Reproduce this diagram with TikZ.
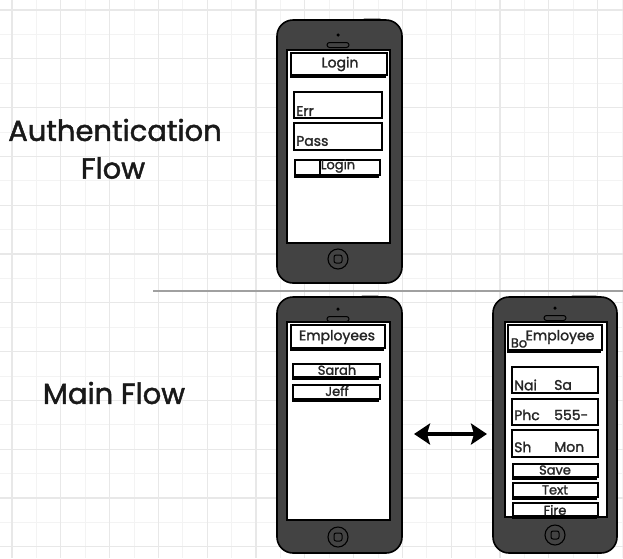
\documentclass[tikz,border=0pt]{standalone}
\usepackage{fontspec}
\setmainfont{Poppins}[FakeBold=1.6]
\usetikzlibrary{arrows.meta,shadows}
\definecolor{phonegray}{HTML}{434343}
\definecolor{majorgrid}{HTML}{E8E8E8}
\definecolor{minorgrid}{HTML}{F3F3F3}
\definecolor{sepgray}{HTML}{A0A0A0}
\tikzset{
  gridmajor/.style={draw=majorgrid, line width=1.2pt},
  gridminor/.style={draw=minorgrid, line width=0.8pt},
  phonebody/.style={draw=black, line width=1.6pt, fill=phonegray, rounded corners=16pt, inner sep=0pt},
  phonescreen/.style={draw=black, line width=1.2pt, fill=white, inner sep=0pt},
  uibox/.style={draw=black, line width=1.4pt, fill=white, inner sep=0pt,
    drop shadow={shadow xshift=-1.5pt, shadow yshift=-3pt, fill=black, opacity=1}},
  uifield/.style={draw=black, line width=1.8pt, fill=white, inner sep=0pt},
  uitext/.style={font=\fontsize{13}{13}\selectfont, inner sep=0pt, text=black!85},
  fieldtext/.style={font=\fontsize{14}{14}\selectfont, inner sep=0pt, text=black!85},
  headtext/.style={font=\fontsize{14}{14}\selectfont, inner sep=0pt, text=black!85},
  flowlabel/.style={font=\fontsize{29}{29}\selectfont, inner sep=0pt, text=black!90},
  homebtn/.style={draw=black, line width=1.1pt, circle, minimum size=20pt, inner sep=0pt, fill=phonegray},
  homeinner/.style={draw=black, line width=1pt, rounded corners=2pt, minimum size=8pt, inner sep=0pt},
  speakerslot/.style={draw=black, line width=1pt, fill=phonegray, rounded corners=2.5pt, minimum width=22pt, minimum height=5pt, inner sep=0pt},
  speakerdot/.style={fill=black, circle, minimum size=3.5pt, inner sep=0pt},
  sidebtn/.style={fill=black, rounded corners=1pt, inner sep=0pt},
  bigarrow/.style={{Stealth[length=16pt,width=21pt,inset=3pt]}-{Stealth[length=16pt,width=21pt,inset=3pt]}, line width=3.4pt, black}
}
\newcommand\uiframe[6]{%
  \node[#1, minimum width={#5-#3}, minimum height={#6-#4}] (#2) at ({(#3+#5)/2},{(#4+#6)/2}) {};}
\begin{document}
\begin{tikzpicture}[x=1pt,y=-1pt]
\useasboundingbox (0,0) rectangle (623,558);
\fill[white] (0,0) rectangle (623,558);
% grid
\foreach \k in {-1,...,12} {
  \draw[gridminor] ({36.4+\k*48.8},0) -- ({36.4+\k*48.8},558);
}
\foreach \k in {-1,...,11} {
  \draw[gridminor] (0,{34.4+\k*48.8}) -- (623,{34.4+\k*48.8});
}
\foreach \k in {0,...,12} {
  \draw[gridmajor] ({12+\k*48.8},0) -- ({12+\k*48.8},558);
}
\foreach \k in {0,...,11} {
  \draw[gridmajor] (0,{10+\k*48.8}) -- (623,{10+\k*48.8});
}

% labels
\node[flowlabel] (lauth) at (115,130) {Authentication};
\node[flowlabel] (lflow) at (113,168) {Flow};
\node[flowlabel] (lmain) at (114,393) {Main Flow};

% separator
\coordinate (sepL) at (153,291);
\coordinate (sepR) at (623,291);
\draw[sepgray, line width=1.6pt] (sepL) -- (sepR);

% ---------- top phone ----------
\node[sidebtn, minimum width=18pt, minimum height=5pt] (p1top) at (372,21) {};
\uiframe{phonebody}{p1}{277}{20}{402}{283}
\uiframe{phonescreen}{p1scr}{287}{50}{390}{243}
\node[speakerdot] (p1dot) at (338,35) {};
\node[speakerslot] (p1spk) at (338,45) {};
\node[homebtn] (p1home) at (338,259) {};
\node[homeinner] (p1homei) at (338,259) {};

\uiframe{uibox}{loginhead}{291}{53}{387}{75}
\node[headtext] (loginheadt) at (340,64) {Login};
\uiframe{uifield}{errf}{294}{92}{382}{118}
\node[fieldtext, anchor=west] (errt) at (296,111) {Err};
\uiframe{uifield}{passf}{294}{123}{382}{150}
\node[fieldtext, anchor=west] (passt) at (296,141) {Pass};
\uiframe{uibox}{loginbtn}{295}{160}{380}{175}
\coordinate (lbdivT) at (320,160);
\coordinate (lbdivB) at (320,175);
\draw[black, line width=1.1pt] (lbdivT) -- (lbdivB);
\node[uitext] (loginbtnt) at (338,166) {Login};

% ---------- bottom left phone ----------
\node[sidebtn, minimum width=18pt, minimum height=5pt] (p2top) at (370,298) {};
\uiframe{phonebody}{p2}{277}{297}{402}{553}
\uiframe{phonescreen}{p2scr}{287}{322}{390}{520}
\node[speakerdot] (p2dot) at (338,309) {};
\node[speakerslot] (p2spk) at (338,319) {};
\node[homebtn] (p2home) at (338,537) {};
\node[homeinner] (p2homei) at (338,537) {};

\uiframe{uibox}{emphead}{291}{325}{385}{348}
\node[headtext] (empheadt) at (337,337) {Employees};
\uiframe{uibox}{sarah}{293}{364}{380}{377}
\node[uitext] (saraht) at (337,370) {Sarah};
\uiframe{uibox}{jeff}{293}{385}{380}{399}
\node[uitext] (jefft) at (337,391) {Jeff};

% ---------- bottom right phone ----------
\node[sidebtn, minimum width=26pt, minimum height=5pt] (p3top) at (584,298) {};
\uiframe{phonebody}{p3}{493}{297}{617}{553}
\uiframe{phonescreen}{p3scr}{505}{322}{607}{517}
\node[speakerdot] (p3dot) at (555,308) {};
\node[speakerslot] (p3spk) at (555,318) {};
\node[homebtn] (p3home) at (555,535) {};
\node[homeinner] (p3homei) at (555,535) {};

\uiframe{uibox}{emp1head}{508}{325}{602}{350}
\node[uitext] (bot) at (519,343) {Bo};
\node[headtext] (emp1headt) at (560,337) {Employee};
\uiframe{uifield}{namef}{512}{367}{598}{393}
\node[fieldtext, anchor=west] (namel) at (514,385) {Nai};
\node[fieldtext, anchor=west] (namev) at (554,385) {Sa};
\uiframe{uifield}{phonef}{512}{399}{598}{425}
\node[fieldtext, anchor=west] (phonel) at (514,415) {Phc};
\node[fieldtext, anchor=west] (phonev) at (554,415) {555-};
\uiframe{uifield}{shf}{512}{430}{598}{457}
\node[fieldtext, anchor=west] (shl) at (514,447) {Sh};
\node[fieldtext, anchor=west] (shv) at (554,447) {Mon};
\uiframe{uibox}{savebtn}{513}{464}{598}{477}
\node[uitext] (savet) at (555,470) {Save};
\uiframe{uibox}{textbtn}{513}{483}{598}{497}
\node[uitext] (textt) at (555,490) {Text};
\uiframe{uibox}{firebtn}{513}{503}{598}{516}
\node[uitext] (firet) at (555,510) {Fire};

% arrow
\coordinate (arrL) at (414,434);
\coordinate (arrR) at (487,434);
\draw[bigarrow] (arrL) -- (arrR);
\end{tikzpicture}
\end{document}
